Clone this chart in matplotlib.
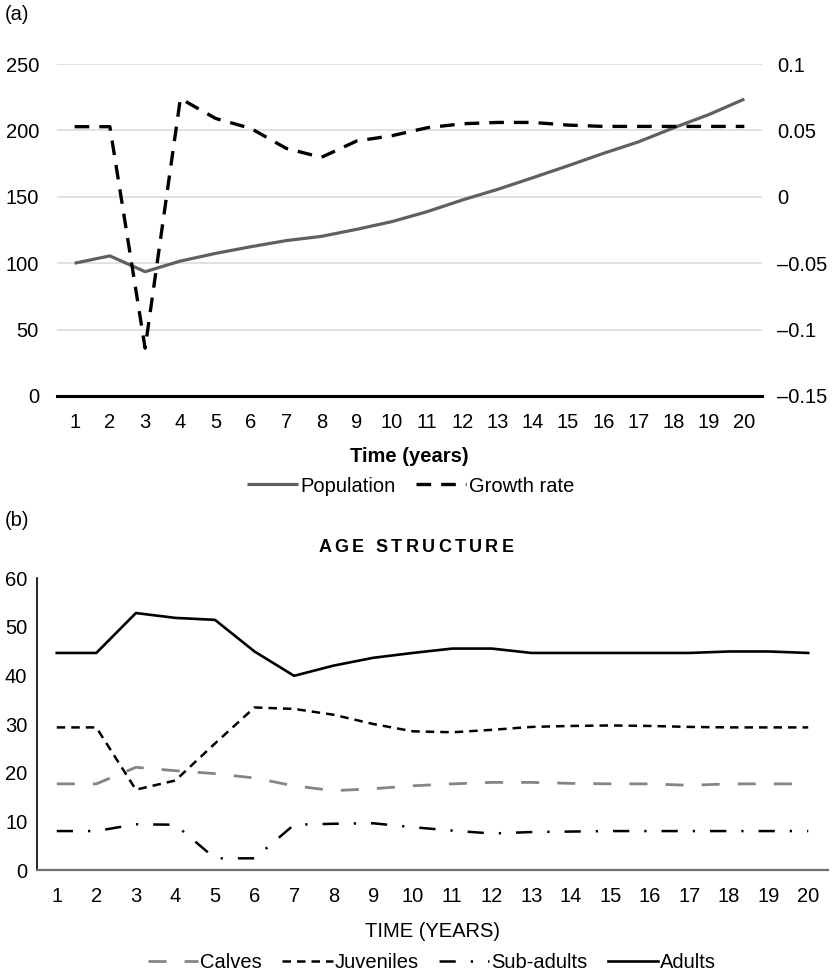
import matplotlib
matplotlib.use("Agg")
import matplotlib.pyplot as plt
from matplotlib.font_manager import FontProperties
import numpy as np

plt.rcParams['font.family'] = ['Liberation Sans', 'DejaVu Sans']

years = list(range(1, 21))

# (a) population size and annual growth rate
population = [100, 105.5, 93.6, 101.6, 107.4, 112.4, 117, 120.2, 125.5, 131.3,
              138.8, 147.6, 155.6, 164.4, 173.4, 182.7, 191.4, 202, 212, 223.6]
growth_rate = [0.0528, 0.0528, -0.114, 0.074, 0.059, 0.0515, 0.0365, 0.0297, 0.042, 0.046,
               0.052, 0.055, 0.056, 0.056, 0.054, 0.053, 0.053, 0.053, 0.053, 0.053]

# (b) age structure (%)
calves = [17.7, 17.7, 21.1, 20.4, 19.8, 18.9, 17.3, 16.3, 16.7, 17.3,
          17.7, 18.0, 18.0, 17.8, 17.7, 17.7, 17.4, 17.7, 17.7, 17.7]
juveniles = [29.3, 29.3, 16.5, 18.4, 26.0, 33.4, 33.1, 31.9, 30.0, 28.5,
             28.3, 28.8, 29.4, 29.6, 29.7, 29.6, 29.4, 29.3, 29.3, 29.3]
subadults = [8.0, 8.0, 9.4, 9.3, 2.4, 2.4, 9.3, 9.5, 9.6, 8.8,
             8.1, 7.5, 7.8, 7.9, 8.0, 8.0, 8.0, 8.0, 8.0, 8.0]
adults = [44.6, 44.6, 52.8, 51.8, 51.4, 44.9, 39.9, 42.0, 43.6, 44.6,
          45.5, 45.5, 44.6, 44.6, 44.6, 44.6, 44.6, 44.9, 44.9, 44.6]

pop_ticks = [0, 50, 100, 150, 200, 250]
rate_ticks = [-0.15, -0.1, -0.05, 0, 0.05, 0.1]
rate_labels = ['\u20130.15', '\u20130.1', '\u20130.05', '0', '0.05', '0.1']
age_ticks = [0, 10, 20, 30, 40, 50, 60]

W, H = 834, 975
fig = plt.figure(figsize=(W / 100, H / 100), dpi=100)

FS = 14.5

def box(left, top, right, bottom):
    return [left / W, 1 - bottom / H, (right - left) / W, (bottom - top) / H]

# ---------- panel (a) ----------
ax = fig.add_axes(box(57, 64, 762, 396))
ax2 = ax.twinx()

l_pop, = ax.plot(years, population, color='#606060', lw=2.3, solid_capstyle='butt',
                 label='Population')
l_rate, = ax2.plot(years, growth_rate, color='black', lw=2.4, dashes=(4.4, 3.0),
                   label='Growth rate')

ax.set_xlim(0.5, 20.5)
ax.set_ylim(0, 250)
ax2.set_ylim(-0.15, 0.1)
ax.set_yticks(pop_ticks)
ax2.set_yticks(rate_ticks)
ax2.set_yticklabels(rate_labels)
ax.set_xticks(years)
ax.grid(axis='y', color='#d9d9d9', lw=1.1)
ax.set_axisbelow(True)
for a in (ax, ax2):
    for side in ('top', 'left', 'right', 'bottom'):
        a.spines[side].set_visible(False)
ax.axhline(0, color='black', lw=2.2, clip_on=False, zorder=5)
ax.tick_params(axis='both', length=0, labelsize=FS)
ax.tick_params(axis='y', pad=13)
ax.tick_params(axis='x', pad=12)
ax2.tick_params(axis='y', length=0, labelsize=FS, pad=11)
ax.set_xlabel('Time (years)', fontsize=FS, fontweight='bold', labelpad=11)

fig.legend([l_pop, l_rate], ['Population', 'Growth rate'], loc='center',
           bbox_to_anchor=(411 / W, 1 - 486 / H), ncol=2, frameon=False,
           fontsize=FS, handlelength=2.5, handletextpad=0.15, columnspacing=1.0)

fig.text(5 / W, 1 - 15 / H, '(a)', fontsize=FS, va='center', ha='left')

# ---------- panel (b) ----------
bx = fig.add_axes(box(37, 578, 828, 870))
lc, = bx.plot(years, calves, color='#858585', lw=2.0, dashes=(6.5, 6.5), label='Calves')
lj, = bx.plot(years, juveniles, color='black', lw=1.8, dashes=(3.4, 2.4), label='Juveniles')
ls, = bx.plot(years, subadults, color='black', lw=1.8, dashes=(6.5, 6, 0.9, 6), label='Sub-adults')
la, = bx.plot(years, adults, color='black', lw=1.9, label='Adults')

bx.set_xlim(0.5, 20.5)
bx.set_ylim(0, 60)
bx.set_xticks(years)
bx.set_yticks(age_ticks)
bx.spines['top'].set_visible(False)
bx.spines['right'].set_visible(False)
bx.spines['left'].set_color('black')
bx.spines['left'].set_linewidth(1.2)
bx.spines['bottom'].set_color('#6e6e6e')
bx.spines['bottom'].set_linewidth(1.6)
bx.tick_params(axis='both', length=0, labelsize=FS)
bx.tick_params(axis='y', pad=7)
bx.tick_params(axis='x', pad=12)
bx.set_xlabel('TIME (YEARS)', fontsize=FS, labelpad=12)

fig.legend([lc, lj, ls, la], ['Calves', 'Juveniles', 'Sub-adults', 'Adults'],
           loc='center', bbox_to_anchor=(432 / W, 1 - 963 / H), ncol=4,
           frameon=False, fontsize=FS, handlelength=2.5, handletextpad=0.1,
           columnspacing=1.0)

fig.text(5 / W, 1 - 520 / H, '(b)', fontsize=FS, va='center', ha='left')

# letter-spaced bold title
def spaced_title(s, xc, yc, size, gap):
    renderer = fig.canvas.get_renderer()
    fp = FontProperties(family='Liberation Sans', weight='bold', size=size)
    px = size * fig.dpi / 72
    widths = []
    for ch in s:
        if ch == ' ':
            widths.append(0.278 * px)
        else:
            widths.append(renderer.get_text_width_height_descent(ch, fp, ismath=False)[0])
    total = sum(widths) + gap * (len(s) - 1)
    x = xc - total / 2
    for ch, w in zip(s, widths):
        if ch != ' ':
            fig.text(x / W, 1 - yc / H, ch, fontproperties=fp, ha='left', va='center')
        x += w + gap

spaced_title('AGE STRUCTURE', 416, 547, 13, 3.3)

fig.savefig('out.png', dpi=100)
